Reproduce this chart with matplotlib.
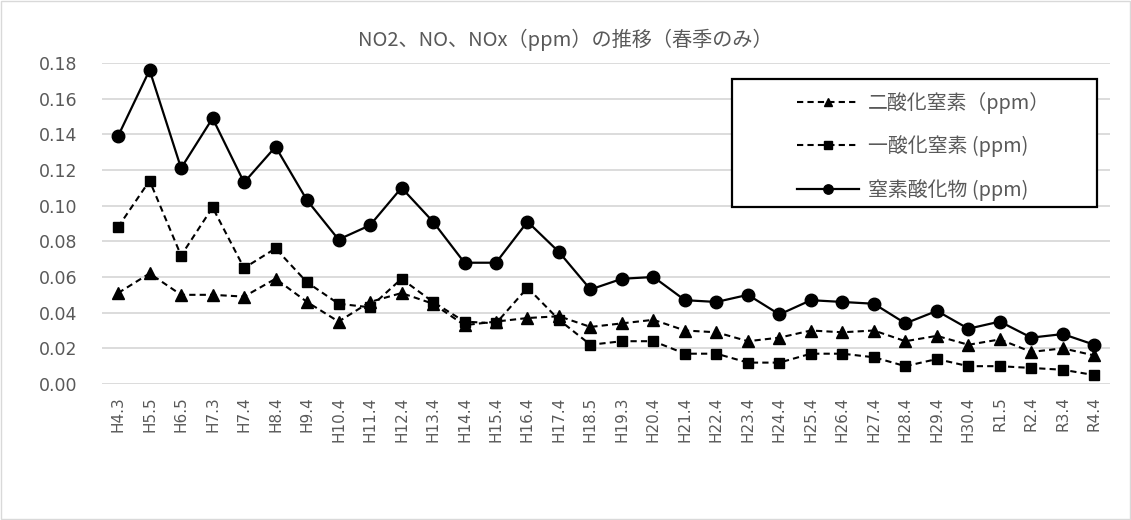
import numpy as np
import matplotlib
matplotlib.use("Agg")
import matplotlib.pyplot as plt

plt.rcParams['font.family'] = ['Noto Sans CJK JP', 'DejaVu Sans']

# survey labels (spring only)
labels = ["H4.3", "H5.5", "H6.5", "H7.3", "H7.4", "H8.4", "H9.4", "H10.4", "H11.4",
          "H12.4", "H13.4", "H14.4", "H15.4", "H16.4", "H17.4", "H18.5", "H19.3",
          "H20.4", "H21.4", "H22.4", "H23.4", "H24.4", "H25.4", "H26.4", "H27.4",
          "H28.4", "H29.4", "H30.4", "R1.5", "R2.4", "R3.4", "R4.4"]

no2 = [0.051, 0.062, 0.050, 0.050, 0.049, 0.059, 0.046, 0.035, 0.046, 0.051, 0.045,
       0.033, 0.035, 0.037, 0.038, 0.032, 0.034, 0.036, 0.030, 0.029, 0.024, 0.026,
       0.030, 0.029, 0.030, 0.024, 0.027, 0.022, 0.025, 0.018, 0.020, 0.016]
no = [0.088, 0.114, 0.072, 0.099, 0.065, 0.076, 0.057, 0.045, 0.043, 0.059, 0.046,
      0.035, 0.034, 0.054, 0.036, 0.022, 0.024, 0.024, 0.017, 0.017, 0.012, 0.012,
      0.017, 0.017, 0.015, 0.010, 0.014, 0.010, 0.010, 0.009, 0.008, 0.005]
nox = [0.139, 0.176, 0.121, 0.149, 0.113, 0.133, 0.103, 0.081, 0.089, 0.110, 0.091,
       0.068, 0.068, 0.091, 0.074, 0.053, 0.059, 0.060, 0.047, 0.046, 0.050, 0.039,
       0.047, 0.046, 0.045, 0.034, 0.041, 0.031, 0.035, 0.026, 0.028, 0.022]

yticks = np.arange(0, 0.181, 0.02)
gray = '#595959'

fig = plt.figure(figsize=(11.31, 5.2), dpi=100)
# thin outer border of the chart area
fig.patches.append(plt.Rectangle((0.001, 0.001), 0.998, 0.998, transform=fig.transFigure,
                                 fill=False, edgecolor='#d9d9d9', linewidth=1))
ax = fig.add_axes([0.0905, 0.2615, 0.891, 0.6175])

x = np.arange(len(labels))
ax.plot(x, no2, color='black', linestyle=(0, (3, 2)), linewidth=1.5,
        marker='^', markersize=8, label='二酸化窒素（ppm）')
ax.plot(x, no, color='black', linestyle=(0, (3, 2)), linewidth=1.5,
        marker='s', markersize=7, label='一酸化窒素 (ppm)')
ax.plot(x, nox, color='black', linestyle='-', linewidth=1.6,
        marker='o', markersize=9, label='窒素酸化物 (ppm)')

ax.set_xlim(-0.5, len(labels) - 0.5)
ax.set_ylim(0, 0.18)
ax.set_yticks(yticks)
ax.set_yticklabels([f"{v:.2f}" for v in yticks], family='DejaVu Sans')
ax.set_xticks(x)
ax.set_xticklabels(labels, rotation=90, family='DejaVu Sans')
ax.tick_params(axis='both', length=0, colors=gray)
ax.tick_params(axis='x', labelsize=11, pad=9)
ax.tick_params(axis='y', labelsize=12.5, pad=18)
ax.yaxis.grid(True, color='#d9d9d9', linewidth=1.3)
ax.set_axisbelow(True)
for s in ax.spines.values():
    s.set_visible(False)

fig.text(0.5, 0.923, "NO2、NO、NOx（ppm）の推移（春季のみ）", color=gray,
         fontsize=14.5, ha='center', va='center')

# legend box drawn by hand, entries placed inside it
fig.patches.append(plt.Rectangle((0.6472, 0.6019), 0.3227, 0.2462, transform=fig.transFigure,
                                 facecolor='white', edgecolor='black', linewidth=1.6, zorder=5))
leg = fig.legend(loc='upper left', bbox_to_anchor=(0.7047, 0.824), fontsize=14.3,
                 handlelength=3.1, handletextpad=0.45, borderpad=0, borderaxespad=0,
                 labelspacing=1.1, frameon=False, markerscale=0.75)
leg.set_zorder(6)
for t in leg.get_texts():
    t.set_color(gray)

fig.savefig("out.png", dpi=100)
